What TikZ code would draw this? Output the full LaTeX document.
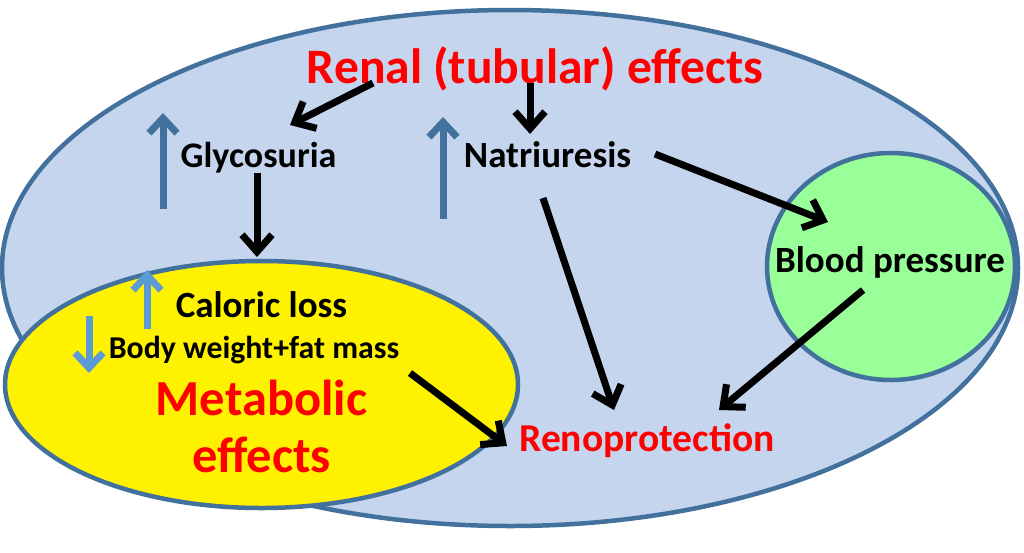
\documentclass[tikz,border=0pt]{standalone}
\usepackage{fontspec}
\setmainfont{Carlito}
\usetikzlibrary{shapes.geometric,arrows.meta}
\definecolor{bluefill}{HTML}{C5D5EE}
\definecolor{edgeblue}{HTML}{41719C}
\definecolor{lightarrow}{HTML}{5B9BD5}
\definecolor{greenfill}{HTML}{99FF99}
\definecolor{redtext}{HTML}{FF0000}
\tikzset{
  region/.style={ellipse, draw=edgeblue, line width=4.5pt, inner sep=0pt, outer sep=0pt},
  blk/.style={draw=black, line width=7pt, -{Straight Barb[length=17pt,width=30pt]}},
  upblue/.style={draw=edgeblue, line width=7pt, -{Straight Barb[length=15pt,width=28pt]}},
  upblue2/.style={draw=lightarrow, line width=7pt, -{Straight Barb[length=15pt,width=28pt]}},
  lbl/.style={font=\bfseries, anchor=base, inner sep=0pt},
}
\begin{document}
\begin{tikzpicture}[x=1pt,y=-1pt]
\useasboundingbox (0,0) rectangle (1024,552);
\fill[white] (0,0) rectangle (1024,552);
% regions
\node[region, fill=bluefill, minimum width=1016pt, minimum height=516pt] (renalreg) at (510,268) {};
\node[region, fill=yellow, minimum width=513pt, minimum height=247pt] (metreg) at (261.5,384.5) {};
\node[region, fill=greenfill, minimum width=248pt, minimum height=227pt] (bpreg) at (891,266.5) {};
% labels
\node[lbl, text=redtext, font=\bfseries\fontsize{49.6}{56}\selectfont] (renal) at (535,83) {Renal (tubular) effects};
\node[lbl, font=\bfseries\fontsize{36}{42}\selectfont] (glyco) at (258.5,167) {Glycosuria};
\node[lbl, font=\bfseries\fontsize{37}{42}\selectfont] (natri) at (547.5,167) {Natriuresis};
\node[lbl, font=\bfseries\fontsize{37}{42}\selectfont] (bp) at (890,272) {Blood pressure};
\node[lbl, font=\bfseries\fontsize{37}{42}\selectfont] (caloric) at (261.5,317) {Caloric loss};
\node[lbl, font=\bfseries\fontsize{31.8}{38}\selectfont] (body) at (254,358) {Body weight+fat mass};
\node[lbl, text=redtext, font=\bfseries\fontsize{50.5}{56}\selectfont] (metab) at (261.5,415) {Metabolic};
\node[lbl, text=redtext, font=\bfseries\fontsize{50.5}{56}\selectfont] (effects) at (261.5,472) {effects};
\node[lbl, text=redtext, font=\bfseries\fontsize{39.5}{46}\selectfont] (reno) at (647,451) {Renoprotection};
% arrow end points
\coordinate (rA) at (373,83);   \coordinate (gA) at (290,125);
\coordinate (rB) at (530,83);   \coordinate (nB) at (530,134);
\coordinate (gC) at (257,173);  \coordinate (mC) at (257,257);
\coordinate (nD) at (655,154);  \coordinate (bD) at (828,222);
\coordinate (nE) at (543,198);  \coordinate (oE) at (614,410);
\coordinate (bF) at (863,290);  \coordinate (oF) at (719,410);
\coordinate (mG) at (410,373);  \coordinate (oG) at (507,446);
% causal arrows
\draw[blk] (rA) -- (gA);
\draw[blk] (rB) -- (nB);
\draw[blk] (gC) -- (mC);
\draw[blk] (nD) -- (bD);
\draw[blk] (nE) -- (oE);
\draw[blk] (bF) -- (oF);
\draw[blk] (mG) -- (oG);
% change arrows
\coordinate (u1a) at (163,209); \coordinate (u1b) at (163,113);
\coordinate (u2a) at (443,219); \coordinate (u2b) at (443,117);
\coordinate (u3a) at (147,329); \coordinate (u3b) at (147,270);
\coordinate (d1a) at (89,316);  \coordinate (d1b) at (89,373);
\draw[upblue] (u1a) -- (u1b);
\draw[upblue] (u2a) -- (u2b);
\draw[upblue2] (u3a) -- (u3b);
\draw[upblue2] (d1a) -- (d1b);
\end{tikzpicture}
\end{document}
